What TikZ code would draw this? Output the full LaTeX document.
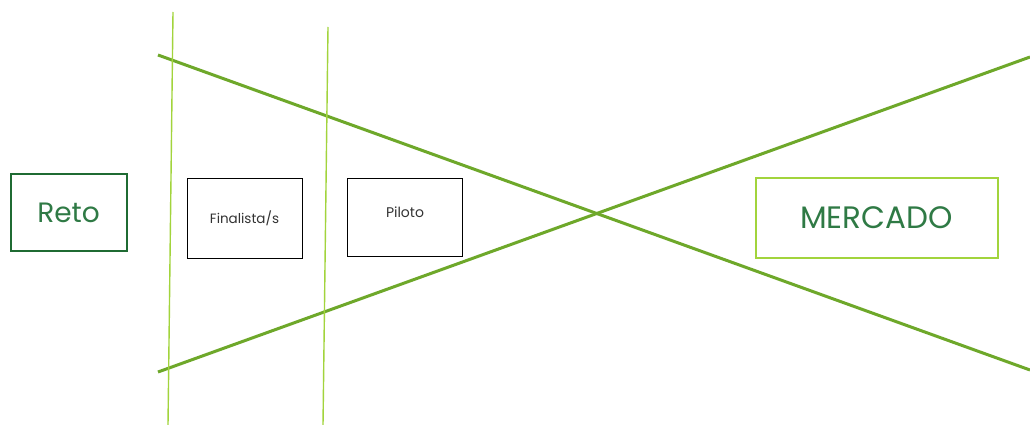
\documentclass[tikz,border=0pt]{standalone}
\usepackage{fontspec}
\setmainfont{Poppins}
\definecolor{darkg}{HTML}{1F6B33}
\definecolor{textg}{HTML}{2F7A45}
\definecolor{lightg}{HTML}{A2D43C}
\definecolor{oliveg}{HTML}{6EA82A}
\definecolor{boxtext}{HTML}{333333}
\begin{document}
\begin{tikzpicture}[x=1pt,y=-1pt,
  stage/.style={draw=black,line width=0.9pt,minimum width=115pt,minimum height=80pt,inner sep=0pt,font=\fontsize{13.5}{15}\selectfont,text=boxtext},
  divider/.style={draw=lightg,line width=1.4pt},
  cross/.style={draw=oliveg,line width=3pt}]
\useasboundingbox[fill=white] (0,0) rectangle (1030,425);
% crossing lines
\coordinate (d1s) at (158,55);
\coordinate (d1e) at (1030,370);
\coordinate (d2s) at (158,372);
\coordinate (d2e) at (1030,57);
\draw[cross] (d1s) -- (d1e);
\draw[cross] (d2s) -- (d2e);
% dividers
\coordinate (v1t) at (173,12);
\coordinate (v1b) at (168,425);
\coordinate (v2t) at (328,27);
\coordinate (v2b) at (323,425);
\draw[divider] (v1t) -- (v1b);
\draw[divider] (v2t) -- (v2b);
% boxes
\node[draw=darkg,line width=2pt,minimum width=116pt,minimum height=77pt,inner sep=0pt,text=textg,font=\fontsize{28}{30}\selectfont] (reto) at (68.5,212.5) {Reto};
\node[stage,fill=white] (fin) at (244.5,218) {Finalista/s};
\node[stage,fill=white,minimum height=78pt] (pil) at (405,217) {};
\node[font=\fontsize{14}{16}\selectfont,text=boxtext] (piltxt) at (405,212) {Piloto};
\node[draw=lightg,line width=2pt,minimum width=242pt,minimum height=80pt,inner sep=0pt,text=textg,font=\fontsize{31}{34}\selectfont] (merc) at (876.5,217.5) {MERCADO};
\end{tikzpicture}
\end{document}
